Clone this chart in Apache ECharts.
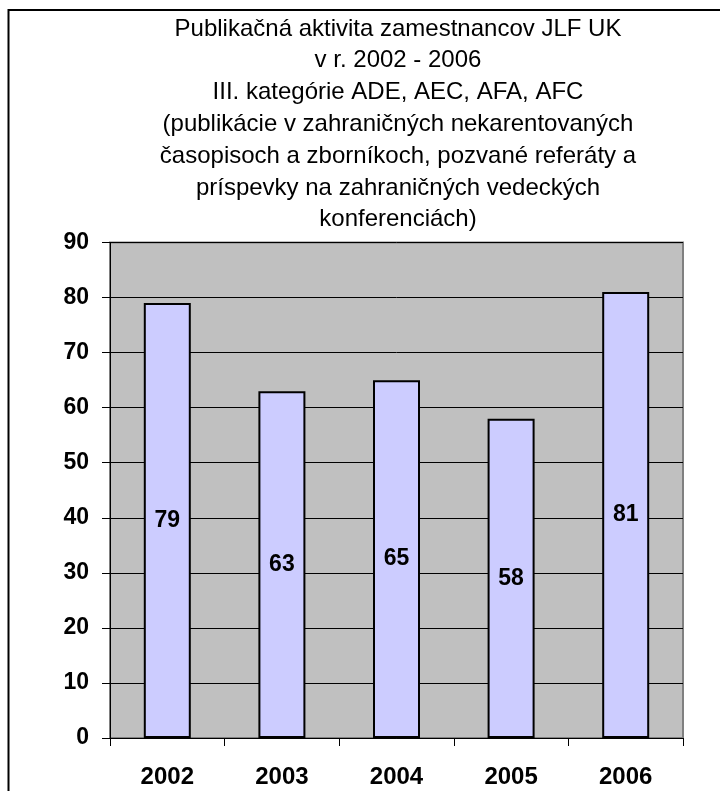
<!DOCTYPE html>
<html>
<head>
<meta charset="utf-8">
<script src="https://cdn.jsdelivr.net/npm/echarts@6/dist/echarts.min.js"></script>
<style>
html,body{margin:0;padding:0;background:#fff;}
#chart{width:720px;height:791px;}
</style>
</head>
<body>
<div id="chart"></div>
<script>
const titleLines = [
  'Publikačná aktivita zamestnancov JLF UK',
  'v r. 2002 - 2006',
  'III. kategórie ADE, AEC, AFA, AFC',
  '(publikácie v zahraničných nekarentovaných',
  'časopisoch a zborníkoch, pozvané referáty a',
  'príspevky na zahraničných vedeckých',
  'konferenciách)'
];
const categories = ['2002', '2003', '2004', '2005', '2006'];
const values = [79, 63, 65, 58, 81];
const yMin = 0, yMax = 90, yStep = 10;

const FONT = '"Liberation Sans", Arial, sans-serif';
const chart = echarts.init(document.getElementById('chart'));
chart.setOption({
  animation: false,
  backgroundColor: '#ffffff',
  title: {
    text: titleLines.join('\n'),
    left: 398,
    top: 13,
    padding: 0,
    textAlign: 'center',
    textStyle: {
      fontFamily: FONT,
      fontSize: 24,
      fontWeight: 'normal',
      color: '#000',
      lineHeight: 31.8
    }
  },
  graphic: [{
    type: 'rect',
    shape: {x: 8.5, y: 10, width: 900, height: 900},
    style: {fill: 'none', stroke: '#000', lineWidth: 2},
    silent: true,
    z: 100
  }],
  grid: {
    left: 110,
    right: 37,
    top: 242.5,
    bottom: 53,
    show: true,
    backgroundColor: '#C0C0C0',
    borderColor: '#808080',
    borderWidth: 2
  },
  xAxis: {
    type: 'category',
    data: categories,
    axisLine: {lineStyle: {color: '#000', width: 1}},
    axisTick: {show: true, length: 8, lineStyle: {color: '#000'}},
    axisLabel: {
      margin: 27,
      color: '#000',
      fontFamily: FONT,
      fontSize: 24,
      fontWeight: 'bold'
    },
    splitLine: {show: false}
  },
  yAxis: {
    type: 'value',
    min: yMin,
    max: yMax,
    interval: yStep,
    axisLine: {show: true, lineStyle: {color: '#000', width: 1}},
    axisTick: {show: true, length: 8, lineStyle: {color: '#000'}},
    axisLabel: {
      margin: 21,
      color: '#000',
      fontFamily: FONT,
      fontSize: 23,
      fontWeight: 'bold'
    },
    splitLine: {show: true, lineStyle: {color: '#000', width: 1}}
  },
  series: [{
    type: 'bar',
    data: values,
    barWidth: 47,
    itemStyle: {color: '#CCCCFF', borderColor: '#000', borderWidth: 2},
    label: {
      show: true,
      position: 'inside',
      color: '#000',
      fontFamily: FONT,
      fontSize: 23,
      fontWeight: 'bold'
    }
  }]
});
</script>
</body>
</html>
